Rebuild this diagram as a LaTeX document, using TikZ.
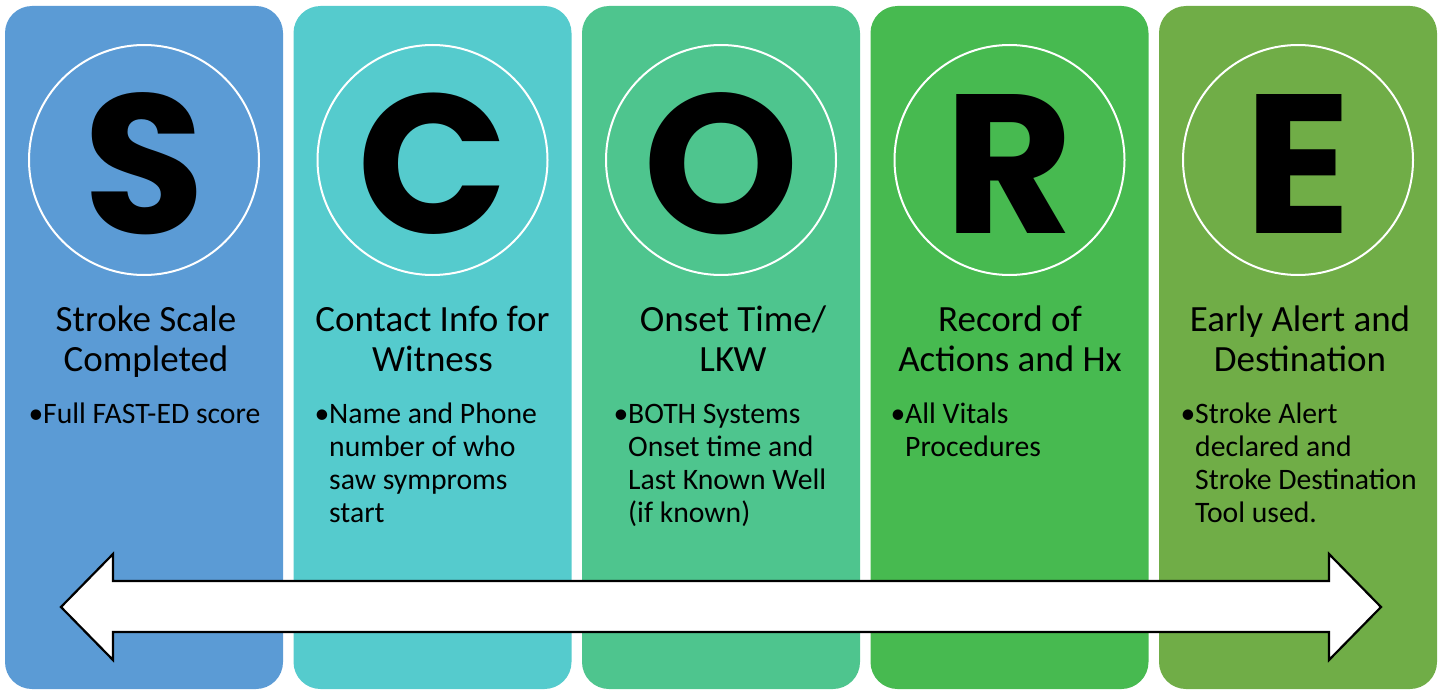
\documentclass[tikz,border=0pt]{standalone}
\usepackage{fontspec}
\setmainfont{Carlito}
\newfontfamily\letterfont{Poppins}
\newcommand{\cblock}[1]{\vtop{\baselineskip=40pt\lineskiplimit=-100pt\halign{\hfil##\hfil\cr#1\crcr}}}
\newcommand{\lblock}[1]{\vtop{\baselineskip=33pt\lineskiplimit=-100pt\halign{##\hfil\cr#1\crcr}}}
\definecolor{cA}{HTML}{5B9BD5}
\definecolor{cB}{HTML}{55CBCD}
\definecolor{cC}{HTML}{4EC58E}
\definecolor{cD}{HTML}{47BA50}
\definecolor{cE}{HTML}{70AD47}
\tikzset{
  column/.style={fill=#1, draw=none, rounded corners=27pt},
  ring/.style={draw=white, line width=2pt, circle, minimum size=230pt, inner sep=0pt},
  bigletter/.style={anchor=base, inner sep=0pt, font=\letterfont\bfseries\fontsize{198}{198}\selectfont},
  titletext/.style={anchor=base, inner sep=0pt, font=\fontsize{37}{40}\selectfont},
  bullettext/.style={anchor=base west, inner sep=0pt, font=\fontsize{29.7}{33}\selectfont},
  bulletmark/.style={anchor=base, inner sep=0pt, font=\fontsize{29.7}{33}\selectfont},
  dblarrow/.style={fill=white, draw=black, line width=2.2pt, line join=miter}
}
\begin{document}
\begin{tikzpicture}[x=1pt,y=-1pt]
\useasboundingbox (0,0) rectangle (1440,690);
% columns
\fill[column=cA] (5,6) rectangle (283,689);
\fill[column=cB] (293.5,6) rectangle (571.5,689);
\fill[column=cC] (582,6) rectangle (860,689);
\fill[column=cD] (870.5,6) rectangle (1148.5,689);
\fill[column=cE] (1159,6) rectangle (1437,689);
% circles
\node[ring] (r1) at (144,160) {};
\node[ring] (r2) at (432.5,160) {};
\node[ring] (r3) at (721,160) {};
\node[ring] (r4) at (1009.5,160) {};
\node[ring] (r5) at (1298,160) {};
% letters
\node[bigletter] (l1) at (144,233) {S};
\node[bigletter] (l2) at (432.5,233) {C};
\node[bigletter] (l3) at (721,233) {O};
\node[bigletter] (l4) at (1009.5,233) {R};
\node[bigletter] (l5) at (1298,233) {E};
% titles
\node[titletext] (t1) at (146,331) {\cblock{Stroke Scale\cr Completed}};
\node[titletext] (t2) at (432.5,331) {\cblock{Contact Info for\cr Witness}};
\node[titletext] (t3) at (733,331) {\cblock{Onset Time/\cr LKW}};
\node[titletext] (t4) at (1010,331) {\cblock{Record of\cr Actions and Hx}};
\node[titletext] (t5) at (1300,331) {\cblock{Early Alert and\cr Destination}};
% bullets
\node[bulletmark] (b1) at (36,423) {\textbullet};
\node[bullettext] (d1) at (43,423) {\lblock{Full FAST-ED score}};
\node[bulletmark] (b2) at (322,423) {\textbullet};
\node[bullettext] (d2) at (329,423) {\lblock{Name and Phone\cr number of who\cr saw symproms\cr start}};
\node[bulletmark] (b3) at (621,423) {\textbullet};
\node[bullettext] (d3) at (628,423) {\lblock{BOTH Systems\cr Onset time and\cr Last Known Well\cr (if known)}};
\node[bulletmark] (b4) at (898,423) {\textbullet};
\node[bullettext] (d4) at (905,423) {\lblock{All Vitals\cr Procedures}};
\node[bulletmark] (b5) at (1188,423) {\textbullet};
\node[bullettext] (d5) at (1195,423) {\lblock{Stroke Alert\cr declared and\cr Stroke Destination\cr Tool used.}};
% double arrow
\draw[dblarrow] (61,607) -- (113,554) -- (113,581) -- (1329,581) -- (1329,554)
  -- (1381,607) -- (1329,660) -- (1329,632) -- (113,632) -- (113,660) -- cycle;
\end{tikzpicture}
\end{document}
